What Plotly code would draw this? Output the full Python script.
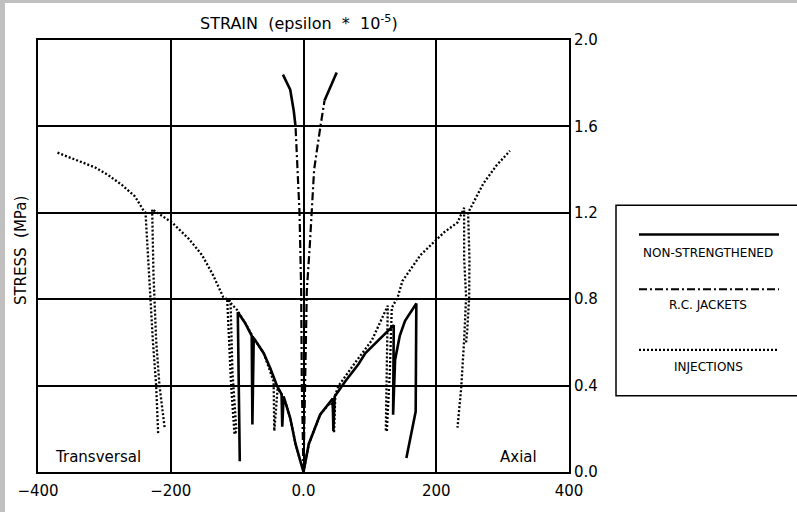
import plotly.graph_objects as go

# ---------------- data (strain in epsilon*1e-5, stress in MPa) ----------------
ns_trans_strain = [0, -12, -20, -27, -30, -32, -33, -40, -50, -60, -75, -77, -78, -88, -99, -96]
ns_trans_stress = [0, 0.13, 0.25, 0.32, 0.35, 0.21, 0.36, 0.40, 0.48, 0.55, 0.62, 0.22, 0.63, 0.69, 0.74, 0.05]

ns_axial_strain = [0, 8, 25, 40, 44, 45, 47, 63, 83, 93, 136, 135, 138, 145, 153, 170, 169, 155]
ns_axial_stress = [0, 0.13, 0.265, 0.32, 0.34, 0.19, 0.35, 0.42, 0.50, 0.55, 0.68, 0.265, 0.52, 0.63, 0.70, 0.78, 0.28, 0.065]

rc_trans_strain = [0, -2.5, -3.5, -6, -9, -12]
rc_trans_stress = [0, 0.40, 0.84, 1.20, 1.40, 1.60]
rc_trans_top_strain = [-12, -14.6, -20, -31]
rc_trans_top_stress = [1.60, 1.67, 1.77, 1.84]

rc_axial_strain = [0, 2.5, 5, 9.5, 13.7, 16, 25.5, 31.7]
rc_axial_stress = [0, 0.40, 0.84, 1.05, 1.29, 1.40, 1.60, 1.72]
rc_axial_top_strain = [31.7, 40, 50]
rc_axial_top_stress = [1.72, 1.78, 1.85]

inj_trans_strain = [0, -12, -20, -27, -33, -39, -44, -45, -60, -75, -88, -100, -115, -109, -104,
                    -101, -107, -110, -121, -136, -153, -173, -198, -213, -228, -226, -222, -217,
                    -209, None, -219, -222, -227, -233, -238, -242, -254, -274, -294, -314, -340, -372]
inj_trans_stress = [0, 0.13, 0.25, 0.32, 0.36, 0.386, 0.19, 0.42, 0.55, 0.62, 0.69, 0.75, 0.80, 0.40, 0.175,
                    0.19, 0.46, 0.79, 0.81, 0.91, 1.005, 1.08, 1.155, 1.185, 1.216, 0.914, 0.61, 0.40,
                    0.20, None, 0.18, 0.40, 0.61, 0.914, 1.20, 1.216, 1.276, 1.33, 1.374, 1.41, 1.44, 1.48]

inj_axial_strain = [0, 8, 25, 40, 44, 46, 48, 53, 78, 103, 127, 124, None, 125.6, 130, 133, 142, 149,
                    162, 176.5, 194, 212, 232, 242, 242, 245, 242, 237.5, 232, None, 245, 246.8,
                    249.6, 250, 248, 256, 271, 291, 311]
inj_axial_stress = [0, 0.13, 0.265, 0.32, 0.31, 0.18, 0.36, 0.40, 0.507, 0.61, 0.77, 0.19, None, 0.19, 0.46,
                    0.76, 0.81, 0.884, 0.944, 1.005, 1.057, 1.11, 1.155, 1.223, 0.99, 0.81, 0.61,
                    0.386, 0.205, None, 0.6, 0.66, 0.81, 0.99, 1.2, 1.246, 1.336, 1.42, 1.487]

x_ticks = [-400, -200, 0, 200, 400]
x_tick_labels = ["\u2212400", "\u2212200", "0.0", "200", "400"]
y_ticks = [0, 0.4, 0.8, 1.2, 1.6, 2.0]
y_tick_labels = ["0.0", "0.4", "0.8", "1.2", "1.6", "2.0"]

legend_names = ["NON-STRENGTHENED", "R.C. JACKETS", "INJECTIONS"]

# ---------------- styles ----------------
FONT = "DejaVu Sans"
SOLID = dict(color="black", width=2.6)
DASHDOT = dict(color="black", width=2.2, dash="8px,3px,2px,3px")
DOTTED = dict(color="black", width=2.3, dash="2px,2px")

fig = go.Figure()


def add(x, y, line):
    fig.add_trace(go.Scatter(x=x, y=y, mode="lines", line=line, showlegend=False,
                             hoverinfo="skip", connectgaps=False))


add(inj_trans_strain, inj_trans_stress, DOTTED)
add(inj_axial_strain, inj_axial_stress, DOTTED)
add(rc_trans_strain, rc_trans_stress, DASHDOT)
add(rc_axial_strain, rc_axial_stress, DASHDOT)
add(rc_trans_top_strain, rc_trans_top_stress, SOLID)
add(rc_axial_top_strain, rc_axial_top_stress, SOLID)
add(ns_trans_strain, ns_trans_stress, SOLID)
add(ns_axial_strain, ns_axial_stress, SOLID)

# ---------------- layout geometry (page pixel coords) ----------------
OX, OY = 5, 3                      # grey window border (left, top)
PAGE_W, PAGE_H = 797, 512
W, H = PAGE_W - OX, PAGE_H - OY    # figure size
FL, FR, FT, FB = 38, 569, 40, 482  # plot frame in page coords
L, T = FL - OX, FT - OY
R, B = PAGE_W - FR, PAGE_H - FB
pw, ph = FR - FL, FB - FT


def px(xp):
    return (xp - FL) / pw


def py(yp):
    return (FB - yp) / ph


shapes = [
    # legend box
    dict(type="rect", xref="paper", yref="paper", x0=px(616), x1=px(800), y0=py(404), y1=py(209),
         line=dict(color="black", width=1.5), fillcolor="rgba(0,0,0,0)"),
    dict(type="line", xref="paper", yref="paper", x0=px(639), x1=px(779), y0=py(239), y1=py(239),
         line=SOLID),
    dict(type="line", xref="paper", yref="paper", x0=px(639), x1=px(779), y0=py(295), y1=py(295),
         line=DASHDOT),
    dict(type="line", xref="paper", yref="paper", x0=px(639), x1=px(779), y0=py(357), y1=py(357),
         line=DOTTED),
]

annotations = [
    dict(text="STRAIN  (epsilon  *  10<sup>-5</sup>)", x=px(299), y=py(22), xref="paper", yref="paper",
         showarrow=False, font=dict(family=FONT, size=16, color="black"), xanchor="center", yanchor="middle"),
    dict(text="STRESS  (MPa)", x=px(21), y=py(256), xref="paper", yref="paper", textangle=-90,
         showarrow=False, font=dict(family=FONT, size=15, color="black"), xanchor="center", yanchor="middle"),
    dict(text="Transversal", x=px(98), y=py(467), xref="paper", yref="paper", showarrow=False,
         font=dict(family=FONT, size=15, color="black"), xanchor="center", yanchor="middle"),
    dict(text="Axial", x=px(518), y=py(467), xref="paper", yref="paper", showarrow=False,
         font=dict(family=FONT, size=15, color="black"), xanchor="center", yanchor="middle"),
]
for name, yy in zip(legend_names, [258, 311, 375]):
    annotations.append(dict(text=name, x=px(708), y=py(yy), xref="paper", yref="paper", showarrow=False,
                            font=dict(family=FONT, size=12, color="black"),
                            xanchor="center", yanchor="middle"))

axis_common = dict(showgrid=True, gridcolor="black", gridwidth=2, zeroline=False,
                   showline=True, linecolor="black", linewidth=2, mirror=True, ticks="", ticklen=0,
                   tickfont=dict(family=FONT, size=15, color="black"), fixedrange=True)

fig.update_layout(
    width=W, height=H, autosize=False,
    margin=dict(l=L, r=R, t=T, b=B, pad=0),
    paper_bgcolor="white", plot_bgcolor="white",
    showlegend=False,
    xaxis=dict(range=[-400, 400], tickmode="array", tickvals=x_ticks, ticktext=x_tick_labels,
               ticklabelstandoff=4, **axis_common),
    yaxis=dict(range=[0, 2.0], side="right", tickmode="array", tickvals=y_ticks,
               ticktext=y_tick_labels, ticklabelstandoff=0, **axis_common),
    shapes=shapes,
    annotations=annotations,
)

fig.write_html(
    "out.html",
    config={"displayModeBar": False, "staticPlot": True},
    post_script=("document.body.style.margin='%dpx 0 0 %dpx';document.body.style.padding='0';"
                 "document.body.style.background='#c0c0c0';"
                 "document.documentElement.style.background='#c0c0c0';") % (OY, OX),
)
